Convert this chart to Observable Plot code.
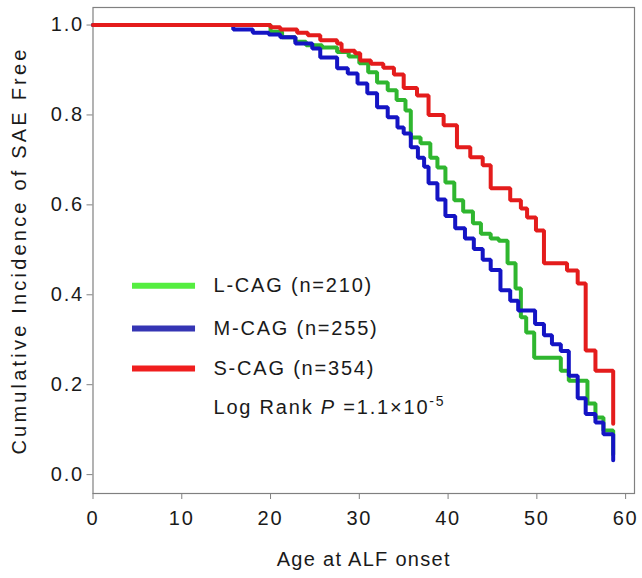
<!DOCTYPE html>
<html><head><meta charset="utf-8">
<script src="https://cdn.jsdelivr.net/npm/d3@7"></script>
<script src="https://cdn.jsdelivr.net/npm/@observablehq/plot@0.6"></script>
<style>
body{margin:0;background:#fff;}
#chart svg{font-family:"Liberation Sans",Arial,sans-serif;}
#chart svg text{letter-spacing:1.8px;}
#chart svg g[aria-label="x-axis tick"], #chart svg g[aria-label="y-axis tick"]{stroke:#808080;}
</style></head><body><div id="chart"></div>
<script>
// ---- data ----
const seriesNames = ["L-CAG", "M-CAG", "S-CAG"];
const seriesN = [210, 255, 354];
const lAge  = [0, 20.0, 21.3, 22.8, 24.0, 25.8, 27.5, 28.8, 30.0, 31.0, 32.0, 33.2, 34.2, 35.2, 35.8, 36.9, 38.0, 38.8, 39.7, 40.7, 41.7, 42.8, 43.7, 44.8, 45.7, 46.7, 47.6, 48.2, 48.8, 49.7, 52.7, 53.6, 55.7, 56.6, 57.5, 58.6];
const lSurv = [1.0, 0.985, 0.973, 0.963, 0.955, 0.95, 0.94, 0.93, 0.915, 0.895, 0.872, 0.855, 0.833, 0.81, 0.75, 0.737, 0.705, 0.683, 0.65, 0.61, 0.585, 0.559, 0.536, 0.525, 0.52, 0.47, 0.414, 0.35, 0.316, 0.26, 0.231, 0.209, 0.158, 0.127, 0.098, 0.045];
const mAge  = [0, 15.8, 18.0, 19.8, 21.1, 22.8, 24.7, 25.6, 27.5, 28.7, 29.8, 30.9, 32.0, 33.2, 34.3, 35.0, 35.8, 36.6, 37.3, 37.8, 38.8, 39.7, 40.8, 41.9, 42.9, 43.9, 44.8, 45.9, 47.0, 47.9, 49.8, 50.8, 51.7, 52.7, 53.6, 54.6, 55.5, 56.6, 57.5, 58.6];
const mSurv = [1.0, 0.99, 0.983, 0.979, 0.973, 0.959, 0.948, 0.928, 0.904, 0.892, 0.87, 0.848, 0.817, 0.795, 0.772, 0.759, 0.728, 0.705, 0.685, 0.648, 0.612, 0.575, 0.548, 0.525, 0.502, 0.478, 0.455, 0.41, 0.387, 0.365, 0.335, 0.31, 0.29, 0.275, 0.22, 0.17, 0.135, 0.116, 0.09, 0.032];
const sAge  = [0, 20.0, 21.1, 23.0, 24.2, 25.6, 27.5, 28.0, 29.5, 30.1, 31.3, 32.7, 33.9, 35.0, 36.5, 37.8, 39.5, 41.0, 42.5, 43.9, 44.8, 47.0, 48.2, 48.9, 49.9, 50.8, 53.4, 54.6, 55.5, 56.6, 58.6];
const sSurv = [1.0, 0.995, 0.99, 0.983, 0.977, 0.966, 0.959, 0.943, 0.937, 0.921, 0.914, 0.905, 0.89, 0.86, 0.843, 0.80, 0.777, 0.728, 0.706, 0.688, 0.637, 0.61, 0.592, 0.572, 0.543, 0.47, 0.454, 0.425, 0.276, 0.231, 0.113];
const xTicks = [0, 10, 20, 30, 40, 50, 60];
const yTicks = [0, 0.2, 0.4, 0.6, 0.8, 1.0];
const xLabel = "Age at ALF onset";
const yLabel = "Cumulative Incidence of SAE Free";
const statText = "Log Rank P =1.1×10-5";

// ---- build ----
const curveColors = ["#2fb62f", "#1414c4", "#e41c1c"];
const legendColors = ["#55ee40", "#3535b4", "#f01e1e"];
const ages = [lAge, mAge, sAge], survs = [lSurv, mSurv, sSurv];
const rows = seriesNames.flatMap((name, k) => ages[k].map((a, i) => ({group: name, age: a, surv: survs[k][i]})));
const legendLabels = seriesNames.map((n, i) => `${n} (n=${seriesN[i]})`);
const legendY = [0.42, 0.325, 0.236];

const plot = Plot.plot({
  width: 642, height: 578,
  marginLeft: 92.5, marginRight: 8, marginTop: 7, marginBottom: 85,
  x: {domain: [0, 61]},
  y: {domain: [-0.042, 1.039]},
  color: {domain: seriesNames, range: curveColors},
  style: {fontFamily: "'Liberation Sans', Arial, sans-serif", fontSize: "20px", color: "#1a1a1a", background: "#fff", overflow: "visible"},
  marks: [
    Plot.frame({stroke: "#808080", strokeWidth: 1.2}),
    Plot.axisX({ticks: xTicks, tickSize: 6, tickPadding: 11, fontSize: 20, label: null}),
    Plot.axisY({ticks: yTicks, tickFormat: d3.format(".1f"), tickSize: 6, tickPadding: 3, fontSize: 20, label: null}),
    Plot.line(rows, {x: "age", y: "surv", z: "group", stroke: "group", curve: "step-after", strokeWidth: 4, strokeLinejoin: "miter"}),
    ...seriesNames.map((n, i) => Plot.ruleY([legendY[i]], {x1: 4.45, x2: 11.55, stroke: legendColors[i], strokeWidth: 6})),
    Plot.text(legendLabels, {x: 13.57, y: (d, i) => legendY[i], text: d => d, textAnchor: "start", fontSize: 20}),
    Plot.text([statText], {x: 13.57, y: 0.15, text: d => d, textAnchor: "start", fontSize: 20}),
    Plot.text([xLabel], {frameAnchor: "bottom", dy: 72, text: d => d, fontSize: 20}),
    Plot.text([yLabel], {frameAnchor: "left", dx: -73, rotate: -90, textAnchor: "middle", text: d => d, fontSize: 20})
  ]
});
document.getElementById("chart").appendChild(plot);

// rich text for the statistic: italic P and superscript exponent
d3.select(plot).selectAll("text").filter(function() { return this.textContent === statText; }).each(function() {
  const t = d3.select(this);
  t.text(null);
  t.append("tspan").text("Log Rank ");
  t.append("tspan").attr("font-style", "italic").text("P");
  t.append("tspan").text(" =1.1×10");
  t.append("tspan").attr("dy", "-0.55em").attr("font-size", "14px").text("-5");
});
d3.select(plot).selectAll("text").filter(function() { return this.textContent === yLabel; }).style("letter-spacing", "3.2px");
d3.select(plot).selectAll("text").filter(function() { return this.textContent === xLabel; }).style("letter-spacing", "1.3px");
</script></body></html>
